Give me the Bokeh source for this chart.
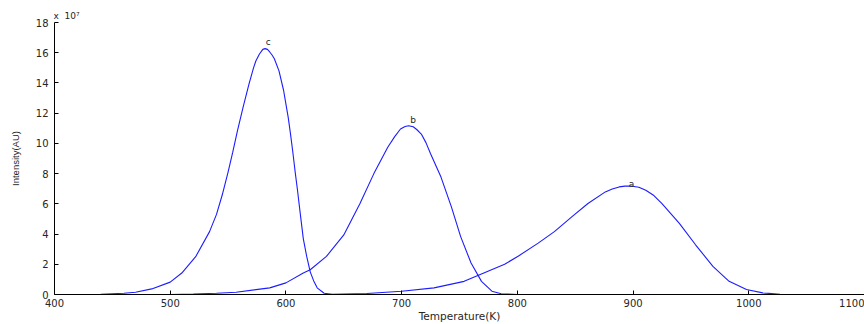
from bokeh.plotting import figure
from bokeh.models import Range1d, FixedTicker
from bokeh.core.properties import value
from bokeh.embed import file_html
from bokeh.resources import INLINE

# Temperature (K) and intensity (x 1e7 AU)
temp_a = [400, 600, 640, 670, 700, 728, 754, 771, 789, 801, 818, 832, 847, 861, 876,
          882, 888, 893, 898, 905, 911, 918, 925, 940, 954, 969, 983, 998, 1012, 1027, 1040, 1100]
int_a = [0, 0, 0.02, 0.07, 0.22, 0.44, 0.87, 1.43, 2.0, 2.55, 3.4, 4.16, 5.14, 6.02, 6.79,
         6.98, 7.12, 7.17, 7.18, 7.1, 6.9, 6.55, 6.02, 4.71, 3.29, 1.86, 0.87, 0.33, 0.11, 0.02, 0, 0]

temp_b = [400, 500, 520, 540, 557, 586, 600, 615, 621, 635, 650, 664, 676, 688, 694, 699,
          703, 706, 710, 713, 717, 721, 725, 734, 743, 751, 760, 769, 778, 786, 800, 1100]
int_b = [0, 0, 0.03, 0.08, 0.15, 0.44, 0.77, 1.42, 1.64, 2.52, 3.94, 6.02, 8.0, 9.74, 10.45, 10.95,
         11.12, 11.17, 11.1, 10.92, 10.62, 10.05, 9.31, 7.77, 5.8, 3.83, 2.08, 0.87, 0.22, 0.05, 0, 0]

temp_c = [400, 440, 460, 470, 484, 500, 510, 522, 534, 540, 545, 550, 554, 558, 563, 568,
          572, 574, 577, 580, 582, 584, 586, 588, 590, 594, 598, 600, 602, 604, 606, 608,
          610, 612, 615, 618, 621, 624, 627, 633, 640, 650, 1100]
int_c = [0, 0.02, 0.08, 0.15, 0.37, 0.82, 1.42, 2.5, 4.16, 5.3, 6.6, 8.1, 9.4, 10.8, 12.4, 13.9,
         15.0, 15.45, 15.9, 16.22, 16.27, 16.22, 16.05, 15.85, 15.6, 14.8, 13.5, 12.6, 11.7, 10.6, 9.4, 8.1,
         6.9, 5.6, 3.7, 2.5, 1.5, 0.9, 0.44, 0.08, 0.01, 0, 0]

peak_names = ["a", "b", "c"]
peak_label_x = [898.7, 709.8, 584.6]
peak_label_y = [7.28, 11.53, 16.7]

x_ticks = [400, 500, 600, 700, 800, 900, 1000, 1100]
y_ticks = [0, 2, 4, 6, 8, 10, 12, 14, 16, 18]
x_title = "Temperature(K)"
y_title = "Intensity(AU)"
scale_note = "x\u00a0 10\u2077"

BLUE = "#1c1cff"
TXT = "#262626"

p = figure(width=864, height=324, output_backend="svg", toolbar_location=None,
           x_range=Range1d(400, 1100), y_range=Range1d(0, 18),
           min_border_left=54, min_border_right=0, min_border_top=22, min_border_bottom=29,
           x_axis_label=x_title, y_axis_label=y_title, title=scale_note)
p.outline_line_color = None
p.grid.visible = False
p.background_fill_color = "white"
p.border_fill_color = "white"

p.title.align = "left"
p.title.offset = -1
p.title.standoff = 3
p.title.text_font = "DejaVu Sans"
p.title.text_font_size = "9px"
p.title.text_font_style = "normal"
p.title.text_color = TXT

for ax in (p.xaxis[0], p.yaxis[0]):
    ax.major_tick_in = 4
    ax.major_tick_out = 0
    ax.minor_tick_line_color = None
    ax.axis_line_color = "black"
    ax.major_tick_line_color = "black"
    ax.major_label_text_font = "DejaVu Sans"
    ax.major_label_text_font_size = "10px"
    ax.major_label_text_color = TXT
    ax.axis_label_text_font_style = "normal"
    ax.axis_label_text_color = TXT

p.xaxis[0].ticker = FixedTicker(ticks=x_ticks)
p.yaxis[0].ticker = FixedTicker(ticks=y_ticks)
p.xaxis[0].major_label_standoff = 4
p.xaxis[0].axis_label_standoff = 0
p.xaxis[0].axis_label_text_font = "DejaVu Sans"
p.xaxis[0].axis_label_text_font_size = "10.5px"
p.yaxis[0].major_label_standoff = 6
p.yaxis[0].axis_label_standoff = 12
p.yaxis[0].axis_label_text_font = "Liberation Sans"
p.yaxis[0].axis_label_text_font_size = "9.5px"

for xs, ys in ((temp_a, int_a), (temp_b, int_b), (temp_c, int_c)):
    p.line(xs, ys, line_color=BLUE, line_width=1.1)

p.text(peak_label_x, peak_label_y, text=peak_names, text_align="center",
       text_baseline="middle", text_font=value("DejaVu Sans"),
       text_font_size="9px", text_color=TXT)

open("out.html", "w").write(file_html(p, INLINE))
